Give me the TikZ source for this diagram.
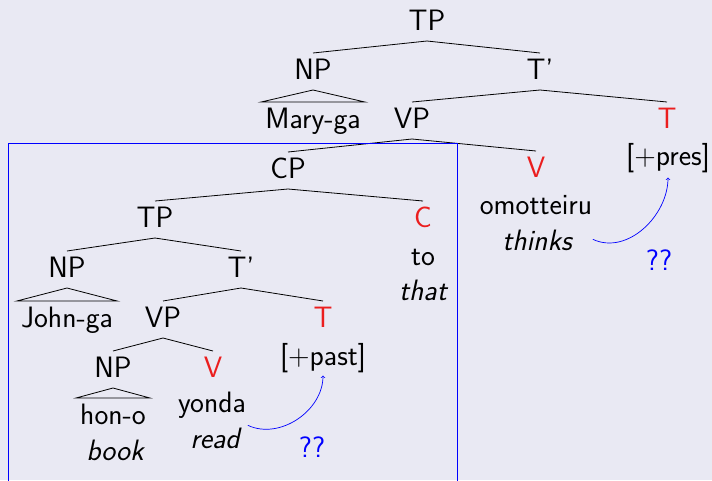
\documentclass[tikz,border=0pt]{standalone}
\usepackage{fontspec}
\begin{document}
\definecolor{bgcol}{RGB}{233,233,243}
\definecolor{hdred}{RGB}{235,30,30}
\begin{tikzpicture}[x=1pt,y=-1pt,
  every node/.style={inner sep=0pt, anchor=base,
    font=\sffamily\fontsize{29.5}{35}\selectfont},
  hd/.style={text=hdred},
  gl/.style={font=\sffamily\itshape\fontsize{29.5}{35}\selectfont},
  qq/.style={text=blue},
  br/.style={draw=black, line width=0.8pt},
  mv/.style={draw=blue, line width=0.7pt, ->},
  frame/.style={draw=blue, line width=0.8pt}]
\useasboundingbox (0,0) rectangle (712,480);
\fill[bgcol] (0,0) rectangle (712,480);
\clip (0,0) rectangle (712,480);

% matrix clause
\node (TPa) at (427,30) {TP};
\node (NPa) at (313,79) {NP};
\node (Tba) at (540,79) {T'};
\node (mary) at (313,128) {Mary-ga};
\node (VPa) at (412,128) {VP};
\node[hd] (Ta) at (667,128) {T};
\node (pres) at (668,165) {[+pres]};
\node[hd] (Va) at (536,177) {V};
\node (omo) at (536,214) {omotteiru};
\node[gl] (thinks) at (537,250) {thinks};
\node[qq] (qa) at (659,270) {??};

% embedded clause
\node (CP) at (288,178) {CP};
\node (TPb) at (155,227) {TP};
\node[hd] (C) at (423,227) {C};
\node (to) at (423,265) {to};
\node[gl] (that) at (423,300) {that};
\node (NPb) at (67,277) {NP};
\node (Tbb) at (241,277) {T'};
\node (john) at (67,327) {John-ga};
\node (VPb) at (163,327) {VP};
\node[hd] (Tb) at (323,327) {T};
\node (past) at (323,365) {[+past]};
\node (NPc) at (113,377) {NP};
\node[hd] (Vb) at (213,377) {V};
\node (hon) at (113,424) {hon-o};
\node[gl] (book) at (115,460) {book};
\node (yonda) at (212,412) {yonda};
\node[gl] (read) at (215,448) {read};
\node[qq] (qb) at (312,457) {??};

% branches
\foreach \p/\c in {TPa/NPa, TPa/Tba, Tba/VPa, Tba/Ta, VPa/CP, VPa/Va,
                   CP/TPb, CP/C, TPb/NPb, TPb/Tbb, Tbb/VPb, Tbb/Tb,
                   VPb/NPc, VPb/Vb}
  \draw[br] ([yshift=-11pt]\p.base) -- ([yshift=26pt]\c.base);

% roofs over unanalysed phrases
\foreach \p/\c in {NPa/mary, NPb/john, NPc/hon}
  \draw[br] ([yshift=-11pt]\p.base) -- ([shift={(-4pt,26pt)}]\c.base west)
            -- ([shift={(4pt,26pt)}]\c.base east) -- cycle;

% embedded CP box
\draw[frame] (8,143) rectangle (457,490);

% head movement to T
\draw[mv] ([shift={(8pt,2pt)}]read.north east) to[out=-25,in=-90] ([yshift=-3pt]past.south);
\draw[mv] ([shift={(21pt,-10pt)}]thinks.north east) to[out=-25,in=-90] ([yshift=-5pt]pres.south);
\end{tikzpicture}
\end{document}
